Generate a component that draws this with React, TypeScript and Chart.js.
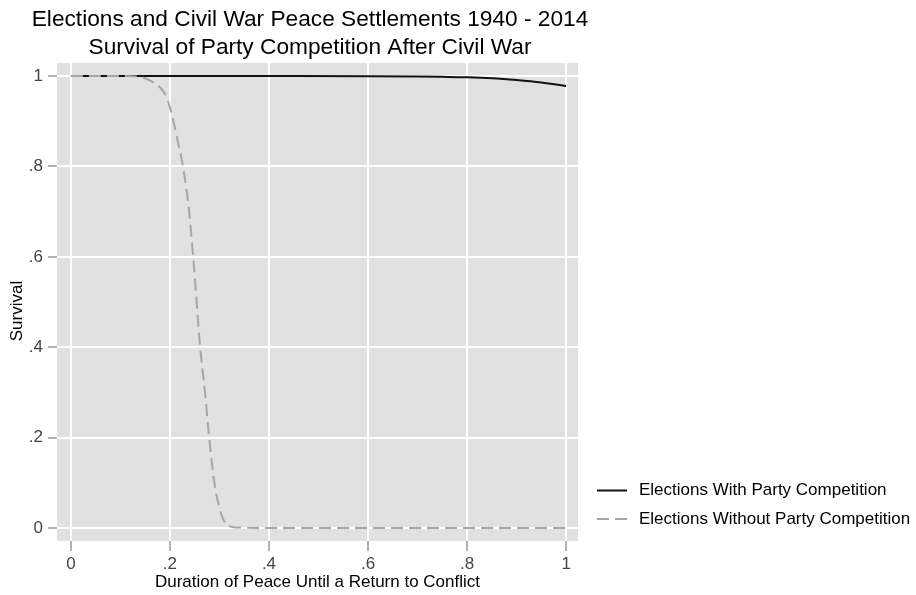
import React, { useEffect, useRef } from "react";
import { Chart, registerables } from "chart.js";

Chart.register(...registerables);

const titleLines = [
  "Elections and Civil War Peace Settlements 1940 - 2014",
  "Survival of Party Competition After Civil War",
];
const xAxisTitle = "Duration of Peace Until a Return to Conflict";
const yAxisTitle = "Survival";
const seriesNames = [
  "Elections With Party Competition",
  "Elections Without Party Competition",
];
const tickValues = [0, 0.2, 0.4, 0.6, 0.8, 1];
const tickLabels = ["0", ".2", ".4", ".6", ".8", "1"];

const withDuration = [0, 0.2, 0.4, 0.6, 0.7, 0.75, 0.8, 0.85, 0.9, 0.95, 1];
const withSurvival = [1, 1, 1, 0.9997, 0.999, 0.9984, 0.9975, 0.9955, 0.9915, 0.986, 0.978];

const withoutDuration = [
  0, 0.1, 0.14, 0.16, 0.18, 0.193, 0.205, 0.215, 0.224, 0.237, 0.247, 0.261,
  0.271, 0.279, 0.291, 0.3, 0.308, 0.318, 0.335, 0.4, 0.6, 0.8, 1,
];
const withoutSurvival = [
  1, 1, 0.998, 0.99, 0.975, 0.954, 0.91, 0.86, 0.814, 0.718, 0.6, 0.401,
  0.298, 0.202, 0.091, 0.045, 0.018, 0.005, 0.001, 0, 0, 0, 0,
];

const FONT = "'Liberation Sans', Arial, Helvetica, sans-serif";

const bgPlugin = {
  id: "plotBg",
  beforeDraw(chart: any) {
    const { ctx, chartArea } = chart;
    ctx.save();
    ctx.fillStyle = "#e1e1e1";
    ctx.fillRect(chartArea.left, chartArea.top, chartArea.right - chartArea.left, chartArea.bottom - chartArea.top);
    ctx.restore();
  },
};

const textPlugin = {
  id: "titlesLegend",
  afterDraw(chart: any) {
    const { ctx } = chart;
    ctx.save();
    ctx.fillStyle = "#000";
    ctx.textAlign = "center";
    ctx.textBaseline = "middle";
    ctx.font = `22.7px ${FONT}`;
    ctx.fillText(titleLines[0], 310, 20);
    ctx.fillText(titleLines[1], 310, 48);

    // y axis title
    ctx.save();
    ctx.translate(17, 311);
    ctx.rotate(-Math.PI / 2);
    ctx.font = `17px ${FONT}`;
    ctx.fillText(yAxisTitle, 0, 0);
    ctx.restore();

    // legend
    const rows = [490.5, 519];
    chart.data.datasets.forEach((ds: any) => {
      const idx = ds.legendIndex;
      const y = rows[idx];
      ctx.strokeStyle = ds.borderColor;
      ctx.lineWidth = ds.borderWidth;
      ctx.setLineDash(ds.borderDash || []);
      ctx.beginPath();
      ctx.moveTo(597, y);
      ctx.lineTo(627, y);
      ctx.stroke();
      ctx.setLineDash([]);
      ctx.fillStyle = "#000";
      ctx.textAlign = "left";
      ctx.font = `17px ${FONT}`;
      ctx.fillText(seriesNames[idx], 639, y);
    });
    ctx.restore();
  },
};

export default function App() {
  const ref = useRef<HTMLCanvasElement | null>(null);

  useEffect(() => {
    if (!ref.current) return;
    const chart = new Chart(ref.current, {
      type: "line",
      data: {
        datasets: [
          {
            label: seriesNames[1],
            legendIndex: 1,
            data: withoutDuration.map((x, i) => ({ x, y: withoutSurvival[i] })),
            borderColor: "#a6a6a6",
            borderWidth: 2,
            borderDash: [12, 6],
            pointRadius: 0,
            cubicInterpolationMode: "monotone",
            fill: false,
            order: 0,
          } as any,
          {
            label: seriesNames[0],
            legendIndex: 0,
            data: withDuration.map((x, i) => ({ x, y: withSurvival[i] })),
            borderColor: "#111111",
            borderWidth: 2,
            pointRadius: 0,
            cubicInterpolationMode: "monotone",
            fill: false,
            order: 1,
          } as any,
        ],
      },
      options: {
        responsive: false,
        animation: false,
        devicePixelRatio: 1,
        layout: { padding: { left: 0, top: 63, right: 338, bottom: 0 } },
        plugins: {
          legend: { display: false },
          title: { display: false },
          tooltip: { enabled: false },
        },
        scales: {
          x: {
            type: "linear",
            min: -0.028,
            max: 1.024,
            afterBuildTicks: (s: any) => {
              s.ticks = tickValues.map((v) => ({ value: v }));
            },
            afterFit: (s: any) => {
              s.height = 54;
            },
            border: { display: false },
            grid: {
              color: "#ffffff",
              lineWidth: 2,
              drawTicks: true,
              tickLength: 10,
              tickColor: "#666666",
              tickWidth: 1,
            },
            ticks: {
              autoSkip: false,
              maxRotation: 0,
              padding: 3,
              color: "#444444",
              font: { family: FONT, size: 17 },
              callback: (_v: any, i: number) => tickLabels[i],
            },
            title: {
              display: true,
              text: xAxisTitle,
              color: "#000000",
              font: { family: FONT, size: 17 },
              padding: { top: 0, bottom: 2 },
            },
          },
          y: {
            type: "linear",
            min: -0.029,
            max: 1.029,
            afterBuildTicks: (s: any) => {
              s.ticks = tickValues.map((v) => ({ value: v }));
            },
            afterFit: (s: any) => {
              s.width = 57;
            },
            border: { display: false },
            grid: {
              color: "#ffffff",
              lineWidth: 2,
              drawTicks: true,
              tickLength: 9,
              tickColor: "#666666",
              tickWidth: 1,
            },
            ticks: {
              autoSkip: false,
              padding: 5,
              color: "#444444",
              font: { family: FONT, size: 17 },
              callback: (_v: any, i: number) => tickLabels[i],
            },
            title: { display: false },
          },
        },
      } as any,
      plugins: [bgPlugin, textPlugin],
    });
    return () => chart.destroy();
  }, []);

  return (
    <div style={{ position: "fixed", left: 0, top: 0, width: 916, height: 595, background: "#fff" }}>
      <canvas ref={ref} width={916} height={595} />
    </div>
  );
}
